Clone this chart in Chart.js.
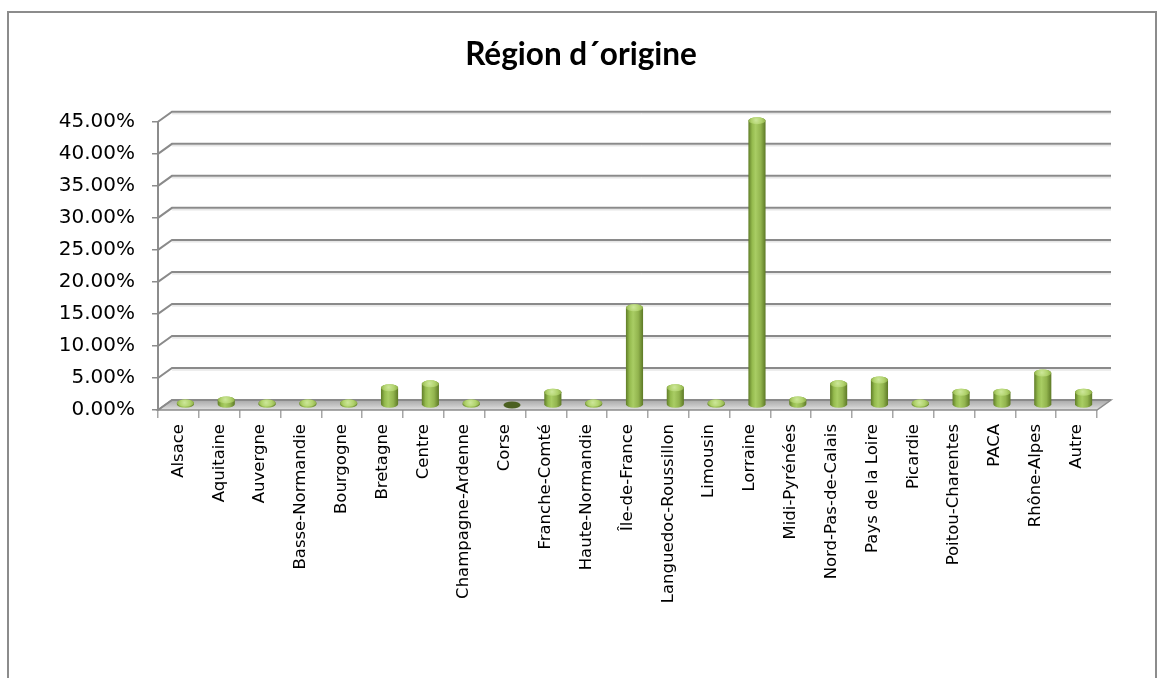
<!DOCTYPE html>
<html><head><meta charset="utf-8">
<script src="https://cdn.jsdelivr.net/npm/chart.js@4"></script>
<style>html,body{margin:0;padding:0;background:#fff;overflow:hidden}</style>
</head><body>
<canvas id="c" width="1162" height="678"></canvas>
<script>
const categories = ['Alsace','Aquitaine','Auvergne','Basse-Normandie','Bourgogne','Bretagne','Centre','Champagne-Ardenne','Corse','Franche-Comté','Haute-Normandie','Île-de-France','Languedoc-Roussillon','Limousin','Lorraine','Midi-Pyrénées','Nord-Pas-de-Calais','Pays de la Loire','Picardie','Poitou-Charentes','PACA','Rhône-Alpes','Autre'];
const values = [0.3, 0.8, 0.3, 0.3, 0.3, 2.7, 3.3, 0.3, 0, 2.0, 0.3, 15.2, 2.7, 0.3, 44.4, 0.8, 3.3, 3.9, 0.3, 2.0, 2.0, 5.0, 2.0];
const yTickLabels = ['0.00%','5.00%','10.00%','15.00%','20.00%','25.00%','30.00%','35.00%','40.00%','45.00%'];
const chartTitle = 'Région d´origine';

const DX = 14, DY = -10;

const threeD = {
  id: 'threeD',
  beforeDraw(chart) {
    const ctx = chart.ctx;
    ctx.save();
    ctx.strokeStyle = '#8c8c8c';
    ctx.lineWidth = 2;
    ctx.beginPath();
    ctx.moveTo(8, 690); ctx.lineTo(8, 12); ctx.lineTo(1156, 12); ctx.lineTo(1156, 690);
    ctx.stroke();
    ctx.restore();
  },
  beforeDatasetsDraw(chart) {
    const {ctx, chartArea: a, scales: {y}} = chart;
    const y0 = y.getPixelForValue(0);
    ctx.save();
    const fg = ctx.createLinearGradient(0, y0 + DY, 0, y0);
    fg.addColorStop(0, '#a8a8a8');
    fg.addColorStop(0.6, '#c8c8c8');
    fg.addColorStop(1, '#e2e2e2');
    ctx.beginPath();
    ctx.moveTo(a.left, y0);
    ctx.lineTo(a.right, y0);
    ctx.lineTo(a.right + DX, y0 + DY);
    ctx.lineTo(a.left + DX, y0 + DY);
    ctx.closePath();
    ctx.fillStyle = fg;
    ctx.fill();
    ctx.strokeStyle = '#8c8c8c';
    ctx.lineWidth = 1.5;
    ctx.stroke();
    y.ticks.forEach(t => {
      const py = y.getPixelForValue(t.value);
      ctx.beginPath();
      ctx.moveTo(a.left, py);
      ctx.lineTo(a.left + DX, py + DY);
      ctx.lineTo(a.right + DX, py + DY);
      ctx.strokeStyle = '#8a8a8a';
      ctx.lineWidth = 2;
      ctx.stroke();
      if (t.value !== 0) {
        ctx.beginPath();
        ctx.moveTo(a.left + DX, py + DY + 2);
        ctx.lineTo(a.right + DX, py + DY + 2);
        ctx.strokeStyle = '#d9d9d9';
        ctx.lineWidth = 1;
        ctx.stroke();
      }
    });
    ctx.restore();
  },
  afterDatasetsDraw(chart) {
    const ctx = chart.ctx;
    const meta = chart.getDatasetMeta(0);
    ctx.save();
    meta.data.forEach((el, i) => {
      const r = el.width / 2, ry = 3.5;
      const cx = el.x + DX / 2;
      const top = el.y + DY / 2;
      const base = el.base + DY / 2;
      if (values[i] === 0) {
        ctx.beginPath();
        ctx.ellipse(cx, base, r, ry, 0, 0, Math.PI * 2);
        ctx.fillStyle = '#4b6021';
        ctx.fill();
        return;
      }
      const g = ctx.createLinearGradient(cx - r, 0, cx + r, 0);
      g.addColorStop(0, '#5f7c27');
      g.addColorStop(0.22, '#95bb4e');
      g.addColorStop(0.42, '#a9cd64');
      g.addColorStop(0.72, '#92b44e');
      g.addColorStop(1, '#5d7926');
      ctx.beginPath();
      ctx.moveTo(cx - r, top);
      ctx.lineTo(cx - r, base);
      ctx.ellipse(cx, base, r, ry, 0, Math.PI, 0, true);
      ctx.lineTo(cx + r, top);
      ctx.ellipse(cx, top, r, ry, 0, 0, Math.PI, true);
      ctx.closePath();
      ctx.fillStyle = g;
      ctx.fill();
      const cg = ctx.createRadialGradient(cx - 1, top - 0.5, 0, cx, top, r);
      cg.addColorStop(0, '#cde79a');
      cg.addColorStop(0.6, '#b0d26c');
      cg.addColorStop(1, '#8fb04a');
      ctx.beginPath();
      ctx.ellipse(cx, top, r, ry, 0, 0, Math.PI * 2);
      ctx.fillStyle = cg;
      ctx.fill();
    });
    ctx.restore();
  }
};

new Chart(document.getElementById('c'), {
  type: 'bar',
  data: {
    labels: categories,
    datasets: [{
      data: values,
      backgroundColor: 'rgba(0,0,0,0)',
      borderWidth: 0,
      categoryPercentage: 1,
      barPercentage: 0.42
    }]
  },
  options: {
    responsive: false,
    animation: false,
    devicePixelRatio: 1,
    layout: { padding: 0 },
    plugins: {
      legend: { display: false },
      tooltip: { enabled: false },
      title: {
        display: true,
        text: chartTitle,
        color: '#000',
        font: { family: 'Lato', size: 31.5, weight: 'bold' },
        padding: { top: 36, bottom: 48 }
      }
    },
    scales: {
      x: {
        grid: { display: true, drawOnChartArea: false, drawTicks: true, tickLength: 8, color: '#a6a6a6', lineWidth: 1.5, offset: true },
        border: { display: false },
        ticks: { maxRotation: 90, minRotation: 90, autoSkip: false, color: '#000', padding: 6, font: { family: 'DejaVu Sans', size: 16.5 } },
        afterFit(s) { s.height = 268; }
      },
      y: {
        min: 0, max: 45,
        ticks: { stepSize: 5, color: '#000', padding: 17, font: { family: 'DejaVu Sans', size: 20 },
          callback: (v, i) => yTickLabels[i] },
        grid: { drawOnChartArea: false, drawTicks: true, tickLength: 6, color: '#8c8c8c', lineWidth: 1.5 },
        border: { display: true, color: '#8c8c8c', width: 2 },
        afterFit(s) { s.width = 158; }
      },
      yRight: {
        position: 'right',
        display: true,
        min: 0, max: 1,
        ticks: { display: false },
        grid: { display: false, drawTicks: false },
        border: { display: false },
        afterFit(s) { s.width = 65; }
      }
    }
  },
  plugins: [threeD]
});
</script>
</body></html>
